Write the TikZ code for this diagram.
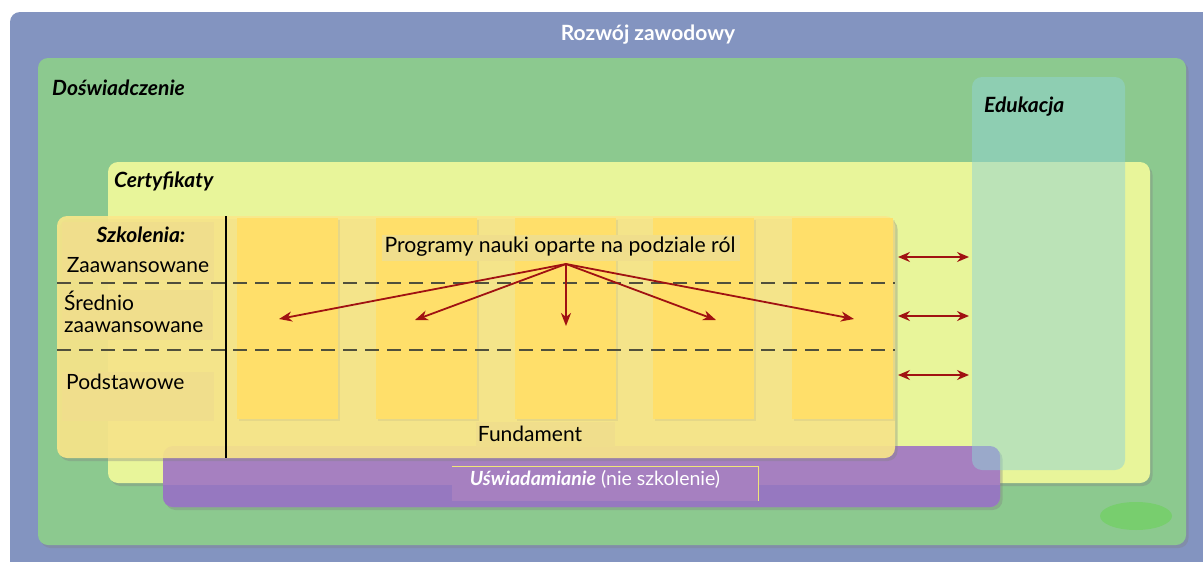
\documentclass[tikz,border=0pt]{standalone}
\usepackage{fontspec}
\setmainfont{Lato}
\usetikzlibrary{arrows.meta,shadows}
\definecolor{cblue}{RGB}{131,148,192}
\definecolor{cgreen}{RGB}{140,201,143}
\definecolor{cyell}{RGB}{232,245,154}
\definecolor{cpurp}{RGB}{166,128,192}
\definecolor{cpurpd}{RGB}{150,120,192}
\definecolor{cgold}{RGB}{250,231,138}
\definecolor{ccol}{RGB}{255,223,106}
\definecolor{clab}{RGB}{240,222,140}
\definecolor{cedu}{RGB}{144,211,213}
\definecolor{carrow}{RGB}{160,18,18}
\definecolor{cdash}{RGB}{80,80,60}
\definecolor{cellipse}{RGB}{120,206,110}
\definecolor{cline}{RGB}{240,230,120}
\tikzset{
  panel/.style={rounded corners=10pt, drop shadow={shadow xshift=2.5pt, shadow yshift=-3pt, opacity=0.35}},
  colbox/.style={fill=ccol, drop shadow={shadow xshift=2pt, shadow yshift=-2pt, opacity=0.12}},
  txt/.style={font=\fontsize{21}{25}\selectfont, inner sep=0pt},
  ttl/.style={font=\fontsize{21}{25}\selectfont\bfseries\itshape, inner sep=0pt},
  dashline/.style={draw=cdash, line width=1.1pt, dash pattern=on 14pt off 8pt},
  redarrow/.style={draw=carrow, line width=1.8pt, -{Stealth[length=13pt,width=10pt,inset=4pt]}},
  dblarrow/.style={draw=carrow, line width=1.8pt, {Stealth[length=12pt,width=10pt,inset=4pt]}-{Stealth[length=12pt,width=10pt,inset=4pt]}}
}
\begin{document}
\begin{tikzpicture}[x=1pt,y=-1pt]
\useasboundingbox (0,0) rectangle (1203,562);
\fill[white] (0,0) rectangle (1203,562);
% outer
\path[panel, fill=cblue] (10,12) rectangle (1215,575);
\node[font=\fontsize{21}{25}\selectfont\bfseries, text=white, inner sep=0pt] (rozwoj) at (648,35) {Rozwój zawodowy};
% green
\path[panel, fill=cgreen] (38,58) rectangle (1186,545);
\node[ttl, anchor=west] (dosw) at (52,88) {Doświadczenie};
\fill[cellipse] (1136,516) ellipse (36pt and 14pt);
% certyfikaty
\path[panel, fill=cyell] (108,162) rectangle (1150,483);
\node[ttl, anchor=west] (cert) at (114,181) {Certyfikaty};
% purple
\path[panel, fill=cpurp] (163,446) rectangle (1000,507);
\fill[cpurpd] (163,485) {[rounded corners=10pt] -- (163,507) -- (1000,507)} -- (1000,485) -- cycle;
% szkolenia
\path[panel, fill=cgold, fill opacity=0.9] (57,216) rectangle (895,458);
\foreach \x in {237,376,515,653,792}{
  \path[colbox] (\x,218) rectangle +(101,201);
}
\fill[clab] (62,222) rectangle (214,280);
\fill[clab] (62,290) rectangle (213,340);
\fill[clab] (62,372) rectangle (214,421);
\fill[clab] (382,235) rectangle (740,261);
\fill[clab] (476,422) rectangle (615,447);
\draw[black, line width=1.6pt] (226,216) -- (226,458);
\draw[dashline] (57,283) -- (895,283);
\draw[dashline] (57,350) -- (895,350);
\node[ttl] (szk) at (141,235) {Szkolenia:};
\node[txt] (zaaw) at (138,265) {Zaawansowane};
\node[txt, anchor=north west, align=left, font=\fontsize{21}{22}\selectfont] (sred) at (64,291) {Średnio\\zaawansowane};
\node[txt, anchor=west] (podst) at (66,382) {Podstawowe};
\node[txt, font=\fontsize{21.2}{24}\selectfont] (prog) at (560,247) {Programy nauki oparte na podziale ról};
\node[txt] (fund) at (530,434) {Fundament};
% uswiadamianie
\fill[cpurp] (452,466) rectangle (758,501);
\draw[cline, line width=0.8pt] (452,466) -- (758,466) -- (758,501);
\node[txt, text=white, font=\fontsize{19.5}{23}\selectfont] (usw) at (595,479) {\textbf{\textit{Uświadamianie}} (nie szkolenie)};
% edukacja
\path[rounded corners=10pt, fill=cedu, fill opacity=0.5] (972,77) rectangle (1125,470);
\node[ttl, anchor=west] (edu) at (984,107) {Edukacja};
% arrows
\coordinate (src) at (566,264);
\coordinate (t1) at (279,319);
\coordinate (t2) at (415,320);
\coordinate (t3) at (566,326);
\coordinate (t4) at (716,320);
\coordinate (t5) at (854,319);
\foreach \t in {t1,t2,t3,t4,t5}{\draw[redarrow] (src) -- (\t);}
\foreach \y [count=\i] in {257,316,375}{
  \coordinate (l\i) at (898,\y);
  \coordinate (r\i) at (969,\y);
  \draw[dblarrow] (l\i) -- (r\i);
}
\end{tikzpicture}
\end{document}
